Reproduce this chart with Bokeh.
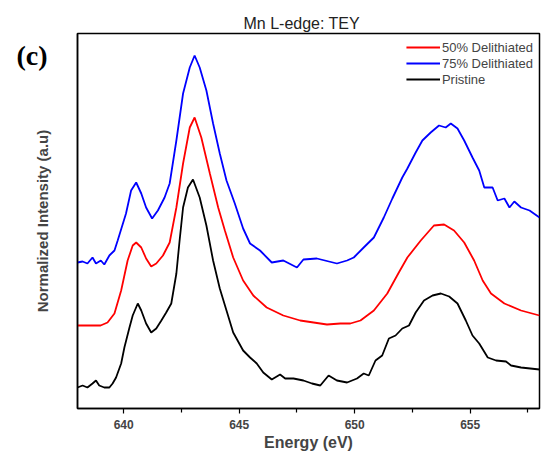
from bokeh.plotting import figure
from bokeh.models import Legend, LegendItem, FixedTicker, Range1d
from bokeh.embed import file_html
from bokeh.resources import INLINE

# Energy (eV) and normalized intensity (a.u., stacked offsets)
pristine_e = [638.0, 638.22, 638.43, 638.65, 638.8, 638.94, 639.16, 639.38, 639.52, 639.67, 639.89,
              640.03, 640.25, 640.39, 640.61, 640.76, 640.97, 641.19, 641.41, 641.63, 641.84, 642.06,
              642.28, 642.42, 642.57, 642.78, 643.0, 643.29, 643.58, 643.87, 644.16, 644.45, 644.74,
              645.17, 645.47, 645.76, 646.04, 646.41, 646.77, 646.99, 647.35, 647.78, 648.15, 648.51,
              648.87, 649.23, 649.67, 650.1, 650.39, 650.61, 650.9, 651.19, 651.48, 651.77, 652.06,
              652.35, 652.64, 653.0, 653.37, 653.73, 654.09, 654.45, 654.81, 655.1, 655.39, 655.76,
              656.12, 656.55, 656.77, 657.2, 658.0]
pristine_i = [21, 23, 21, 25, 28, 23, 21, 21, 25, 31, 45,
              61, 81, 93, 105, 98, 85, 76, 80, 88, 96, 105,
              135, 168, 201, 221, 229, 211, 183, 148, 120, 98, 76,
              58, 51, 45, 36, 29, 34, 30, 30, 28, 25, 23,
              33, 28, 26, 30, 35, 33, 48, 53, 70, 73, 80,
              83, 96, 108, 113, 115, 112, 105, 88, 73, 65, 51,
              48, 47, 43, 41, 39]

delith50_e = [638.0, 638.5, 639.0, 639.3, 639.6, 639.89, 640.17, 640.39, 640.54, 640.76, 640.97,
              641.19, 641.41, 641.7, 641.99, 642.28, 642.57, 642.86, 643.07, 643.36, 643.73, 644.09,
              644.38, 644.74, 645.17, 645.61, 646.19, 646.91, 647.64, 648.8, 649.38, 649.81, 650.25,
              650.83, 651.41, 651.91, 652.28, 652.86, 653.43, 653.87, 654.3, 654.74, 655.17, 655.54,
              655.9, 656.48, 657.2, 658.0]
delith50_i = [83, 83, 83, 86, 95, 118, 148, 163, 166, 161, 150,
              142, 145, 153, 166, 201, 245, 281, 291, 271, 235, 201,
              178, 151, 128, 113, 101, 93, 88, 84, 85, 85, 88,
              98, 115, 136, 151, 168, 183, 184, 178, 166, 148, 128,
              115, 105, 98, 93]

delith75_e = [638.0, 638.22, 638.43, 638.65, 638.8, 639.01, 639.16, 639.38, 639.6, 639.74, 640.1,
              640.32, 640.54, 640.76, 640.97, 641.23, 641.48, 641.77, 641.99, 642.28, 642.57, 642.86,
              643.07, 643.29, 643.58, 643.87, 644.16, 644.45, 644.81, 645.17, 645.47, 645.9, 646.41,
              646.91, 647.5, 647.78, 648.36, 649.23, 649.67, 649.96, 650.39, 650.83, 651.26, 651.63,
              652.06, 652.28, 652.64, 652.93, 653.29, 653.65, 653.94, 654.16, 654.45, 654.74, 655.1,
              655.39, 655.61, 655.97, 656.19, 656.48, 656.7, 656.91, 657.2, 657.57, 658.0]
delith75_i = [146, 147, 145, 151, 145, 148, 144, 153, 158, 168, 195,
              218, 226, 215, 201, 190, 198, 211, 225, 268, 315, 341,
              353, 341, 318, 285, 255, 228, 205, 180, 165, 158, 146,
              148, 141, 149, 150, 145, 148, 151, 161, 171, 191, 210,
              231, 240, 256, 268, 276, 283, 281, 285, 280, 268, 251,
              238, 221, 221, 208, 210, 201, 207, 201, 198, 191]

x_ticks = [640, 645, 650, 655]
x_minor_ticks = [642.5, 647.5, 652.5, 657.5]
panel_tag = "(c)"
panel_tag_pos = 353

p = figure(width=544, height=453, output_backend="svg", toolbar_location=None,
           x_range=Range1d(638, 658), y_range=Range1d(0, 375),
           min_border_left=77, min_border_right=5, min_border_top=33, min_border_bottom=45)

p.title.text = "Mn L-edge: TEY"
p.title.align = "left"
p.title.offset = 166
p.title.text_font = "Liberation Sans"
p.title.text_font_size = "16px"
p.title.text_font_style = "normal"
p.title.text_color = "#222222"
p.title.standoff = 4

p.grid.visible = False
p.outline_line_color = "black"
p.outline_line_width = 1.5

r50 = p.line(delith50_e, delith50_i, line_color="#ff0000", line_width=1.8)
r75 = p.line(delith75_e, delith75_i, line_color="#0000ff", line_width=1.8)
rp = p.line(pristine_e, pristine_i, line_color="#000000", line_width=1.8)

legend = Legend(items=[LegendItem(label="50% Delithiated", renderers=[r50]),
                       LegendItem(label="75% Delithiated", renderers=[r75]),
                       LegendItem(label="Pristine", renderers=[rp])],
                location="top_right", border_line_color=None, background_fill_alpha=0,
                label_text_font="Liberation Sans", label_text_font_size="13px",
                glyph_width=34, glyph_height=16, label_height=16, spacing=0,
                label_standoff=2, padding=2, margin=6)
p.add_layout(legend)

xa = p.xaxis[0]
xa.ticker = FixedTicker(ticks=x_ticks, minor_ticks=x_minor_ticks)
xa.axis_label = "Energy (eV)"
xa.axis_label_text_font = "Liberation Sans"
xa.axis_label_text_font_size = "16px"
xa.axis_label_text_font_style = "bold"
xa.axis_label_standoff = 2
xa.major_label_text_font = "Liberation Sans"
xa.major_label_text_font_size = "12px"
xa.major_label_text_font_style = "bold"
xa.major_label_standoff = 6
xa.major_tick_in = 0
xa.major_tick_out = 5
xa.minor_tick_in = 0
xa.minor_tick_out = 4
xa.axis_line_width = 1.5
xa.major_tick_line_width = 1.2
xa.minor_tick_line_width = 1.2

ya = p.yaxis[0]
ya.ticker = FixedTicker(ticks=[panel_tag_pos], minor_ticks=[])
ya.major_label_overrides = {panel_tag_pos: panel_tag}
ya.major_label_text_font = "Liberation Serif"
ya.major_label_text_font_size = "28px"
ya.major_label_text_font_style = "bold"
ya.major_label_text_color = "black"
ya.major_label_standoff = 30
ya.major_tick_in = 0
ya.major_tick_out = 0
ya.minor_tick_in = 0
ya.minor_tick_out = 0
ya.major_tick_line_color = None
ya.minor_tick_line_color = None
ya.axis_label = "Normalized Intensity (a.u)"
ya.axis_label_text_font = "Liberation Sans"
ya.axis_label_text_font_size = "15px"
ya.axis_label_text_font_style = "bold"
ya.axis_label_standoff = -38
ya.axis_line_width = 1.5

open("out.html", "w").write(file_html(p, INLINE))
